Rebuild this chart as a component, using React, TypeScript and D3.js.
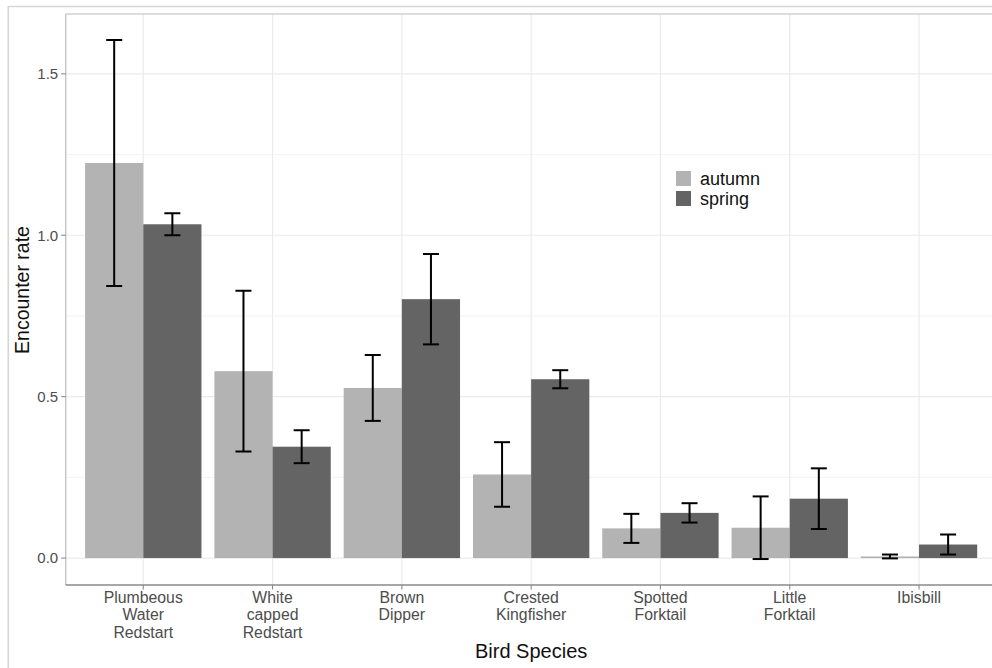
import React from "react";
import * as d3 from "d3";

const species = [
  "Plumbeous Water Redstart",
  "White capped Redstart",
  "Brown Dipper",
  "Crested Kingfisher",
  "Spotted Forktail",
  "Little Forktail",
  "Ibisbill",
];
const speciesLines = [
  ["Plumbeous", "Water", "Redstart"],
  ["White", "capped", "Redstart"],
  ["Brown", "Dipper"],
  ["Crested", "Kingfisher"],
  ["Spotted", "Forktail"],
  ["Little", "Forktail"],
  ["Ibisbill"],
];
const seasons = ["autumn", "spring"];
const autumnRate = [1.224, 0.579, 0.527, 0.259, 0.092, 0.094, 0.005];
const autumnErr = [0.381, 0.249, 0.102, 0.1, 0.045, 0.097, 0.006];
const springRate = [1.034, 0.345, 0.802, 0.554, 0.14, 0.184, 0.042];
const springErr = [0.034, 0.051, 0.14, 0.028, 0.03, 0.094, 0.031];
const yMajorTicks = [0, 0.5, 1.0, 1.5];
const yMinorTicks = [0.25, 0.75, 1.25];

const seasonColor: Record<string, string> = { autumn: "#b3b3b3", spring: "#646464" };
const FONT = "'Liberation Sans', Arial, Helvetica, sans-serif";

export default function App() {
  const W = 992;
  const H = 668;
  const panel = { left: 65.7, right: 996.6, top: 14, bottom: 585 };

  const rows = species.flatMap((s, i) => [
    { species: s, season: "autumn", rate: autumnRate[i], err: autumnErr[i] },
    { species: s, season: "spring", rate: springRate[i], err: springErr[i] },
  ]);

  const lo = Math.min(0, d3.min(rows, (r) => r.rate - r.err)!);
  const hi = d3.max(rows, (r) => r.rate + r.err)!;
  const pad = (hi - lo) * 0.05;

  const y = d3.scaleLinear().domain([lo - pad, hi + pad]).range([panel.bottom, panel.top]);
  const x = d3.scalePoint<string>().domain(species).range([panel.left, panel.right]).padding(0.6);
  const step = x.step();
  const groupW = step * 0.9;
  const dodge = d3.scaleBand<string>().domain(seasons).range([-groupW / 2, groupW / 2]).padding(0);
  const capW = 16;

  return (
    <svg
      width={W}
      height={H}
      style={{ position: "absolute", left: 0, top: 0, background: "#fff", fontFamily: FONT }}
    >
      <defs>
        <clipPath id="panelClip">
          <rect x={panel.left} y={panel.top} width={panel.right - panel.left} height={panel.bottom - panel.top} />
        </clipPath>
      </defs>

      {/* outer frame */}
      <line x1={8} x2={W} y1={6.5} y2={6.5} stroke="#d6d6d6" strokeWidth={1.6} />
      <line x1={8.3} x2={8.3} y1={6} y2={H} stroke="#d6d6d6" strokeWidth={1.6} />

      <g clipPath="url(#panelClip)">
        <rect x={panel.left} y={panel.top} width={panel.right - panel.left} height={panel.bottom - panel.top} fill="#fff" />
        {yMinorTicks.map((t) => (
          <line key={"mn" + t} x1={panel.left} x2={panel.right} y1={y(t)} y2={y(t)} stroke="#efefef" strokeWidth={0.8} />
        ))}
        {yMajorTicks.map((t) => (
          <line key={"mj" + t} x1={panel.left} x2={panel.right} y1={y(t)} y2={y(t)} stroke="#ebebeb" strokeWidth={1.2} />
        ))}
        {species.map((s) => (
          <line key={"v" + s} x1={x(s)} x2={x(s)} y1={panel.top} y2={panel.bottom} stroke="#ebebeb" strokeWidth={1.2} />
        ))}

        {rows.map((r) => {
          const cx = x(r.species)! + dodge(r.season)!;
          return (
            <rect
              key={"b" + r.species + r.season}
              x={cx}
              y={Math.min(y(r.rate), y(0))}
              width={dodge.bandwidth()}
              height={Math.abs(y(0) - y(r.rate))}
              fill={seasonColor[r.season]}
            />
          );
        })}

        {rows.map((r) => {
          const cx = x(r.species)! + dodge(r.season)! + dodge.bandwidth() / 2;
          const yt = y(r.rate + r.err);
          const yb = y(r.rate - r.err);
          return (
            <g key={"e" + r.species + r.season} stroke="#000" strokeWidth={2}>
              <line x1={cx} x2={cx} y1={yt} y2={yb} />
              <line x1={cx - capW / 2} x2={cx + capW / 2} y1={yt} y2={yt} />
              <line x1={cx - capW / 2} x2={cx + capW / 2} y1={yb} y2={yb} />
            </g>
          );
        })}
      </g>

      {/* panel border and axis lines */}
      <line x1={panel.left} x2={W} y1={panel.top} y2={panel.top} stroke="#d0d0d0" strokeWidth={1.4} />
      <line x1={panel.left} x2={panel.left} y1={panel.top} y2={panel.bottom} stroke="#c4c4c4" strokeWidth={1.4} />
      <line x1={panel.left} x2={W} y1={panel.bottom} y2={panel.bottom} stroke="#8a8a8a" strokeWidth={1.4} />

      {/* y axis */}
      {yMajorTicks.map((t) => (
        <g key={"yt" + t}>
          <line x1={panel.left - 4.5} x2={panel.left} y1={y(t)} y2={y(t)} stroke="#8a8a8a" strokeWidth={1.1} />
          <text x={panel.left - 7.5} y={y(t)} dy="0.36em" textAnchor="end" fontSize={15} fill="#4d4d4d">
            {d3.format(".1f")(t)}
          </text>
        </g>
      ))}

      {/* x axis */}
      {species.map((s, i) => (
        <g key={"xt" + s}>
          <line x1={x(s)} x2={x(s)} y1={panel.bottom} y2={panel.bottom + 4.5} stroke="#8a8a8a" strokeWidth={1.1} />
          <text x={x(s)} y={603} textAnchor="middle" fontSize={15.8} fill="#4d4d4d">
            {speciesLines[i].map((ln, k) => (
              <tspan key={k} x={x(s)} dy={k === 0 ? 0 : 17.3}>
                {ln}
              </tspan>
            ))}
          </text>
        </g>
      ))}

      {/* axis titles */}
      <text x={(panel.left + panel.right) / 2} y={658} textAnchor="middle" fontSize={20} fill="#111">
        Bird Species
      </text>
      <text
        transform={`translate(29,290) rotate(-90)`}
        textAnchor="middle"
        fontSize={19.5}
        fill="#111"
      >
        Encounter rate
      </text>

      {/* legend */}
      <g>
        <rect x={668} y={164} width={104} height={48} fill="#fff" />
        {seasons.map((s, i) => (
          <g key={"lg" + s}>
            <rect x={676} y={171 + i * 20} width={15} height={15} fill={seasonColor[s]} />
            <text x={700} y={184.5 + i * 20} fontSize={18} fill="#111">
              {s}
            </text>
          </g>
        ))}
      </g>
    </svg>
  );
}
